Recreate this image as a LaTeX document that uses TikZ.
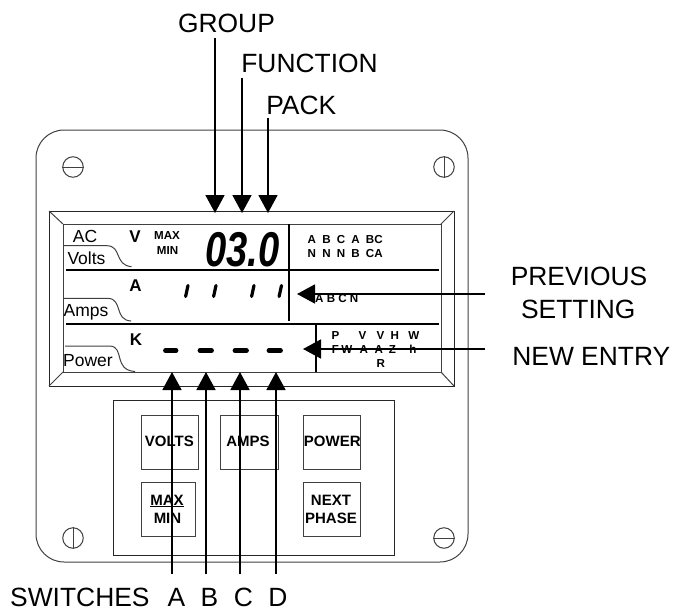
\documentclass[tikz,border=0pt]{standalone}
\usepackage{fontspec}
\usepackage{graphicx}
\setmainfont{Liberation Sans}
\usetikzlibrary{arrows.meta}
\newcommand{\fs}[1]{\fontsize{#1}{#1}\selectfont}
\tikzset{
  x=1pt,y=-1pt,
  thinline/.style={line width=1pt,draw=black!75},
  frame/.style={line width=1pt,draw=black!85},
  rule/.style={line width=1.6pt,draw=black},
  pointer/.style={line width=1.8pt,draw=black,-{Triangle[length=18pt,width=19pt]}},
  big/.style={inner sep=0pt,anchor=base,font=\fs{26.4}},
  tab/.style={inner sep=0pt,anchor=base,font=\fs{17.5}},
  sym/.style={inner sep=0pt,anchor=base,font=\fs{17}\bfseries},
  tiny/.style={inner sep=0pt,anchor=base,font=\fs{11.6}\bfseries},
  tinyw/.style={inner sep=0pt,anchor=base west,font=\fs{11.6}\bfseries},
  btn/.style={inner sep=0pt,anchor=base,font=\fs{15}\bfseries},
  btnbox/.style={rectangle,thinline,inner sep=0pt,anchor=north west},
  screw/.style={circle,thinline,minimum size=20.5pt,inner sep=0pt},
  tick/.style={line width=3.2pt,line cap=round,draw=black},
  dashmark/.style={line width=4.8pt,line cap=round,draw=black}
}
\begin{document}
\begin{tikzpicture}
\path[use as bounding box] (0,0) rectangle (673,611);
% panel
\draw[thinline,rounded corners=28pt] (36,130) rectangle (468,562);
% screws
\node[screw] (s1) at (73,167) {}; \draw[thinline] (s1.west) -- (s1.east);
\node[screw] (s2) at (444,167) {}; \draw[thinline] (s2.north) -- (s2.south);
\node[screw] (s3) at (73,538) {}; \draw[thinline] (s3.north) -- (s3.south);
\node[screw] (s4) at (444,538) {}; \draw[thinline] (s4.west) -- (s4.east);
% display bevel
\draw[frame] (49,211) rectangle (454,386);
\draw[thinline] (63,224) rectangle (441,372);
\draw[thinline] (49,211) -- (63,224) (454,211) -- (441,224) (49,386) -- (63,372) (454,386) -- (441,372);
% rows
\draw[rule] (66,270) -- (439,270);
\draw[rule] (66,324) -- (439,324);
\draw[rule] (289,224) -- (289,321);
\draw[rule] (316,324) -- (316,372);
% tabs
\draw[thinline] (63,245.7) -- (107,245.7) .. controls (122,246) and (114,265) .. (131.5,266.7);
\draw[thinline] (63,298.3) -- (108,298.3) .. controls (123,299) and (114,320) .. (131,321);
\draw[thinline] (65,346) -- (110,346) .. controls (125,347) and (113,370) .. (135,371.5);
\node[tab] (ac) at (85,242) {AC};
\node[tab] (volts) at (86.5,264) {Volts};
\node[tab] (amps) at (86,316.7) {Amps};
\node[tab] (power) at (88,366.7) {Power};
\node[sym] (v) at (135,242.7) {V};
\node[sym] (a) at (135.5,291.7) {A};
\node[sym] (k) at (136,345) {K};
\node[tiny] (max) at (167,239) {MAX};
\node[tiny] (min) at (167.5,254) {MIN};
% digits
\node[inner sep=0pt,anchor=base,font=\fs{48.9}\bfseries\itshape] (digits) at (242.5,266) {\scalebox{0.78}[1]{03.0}};
% segments
\draw[tick] (188,285.5) -- (185.6,296.5);
\draw[tick] (216,285.5) -- (213.6,296.5);
\draw[tick] (254,285.5) -- (251.6,296.5);
\draw[tick] (281.5,285.5) -- (279.1,296.5);
\draw[dashmark] (165.5,350.7) -- (176,350.7);
\draw[dashmark] (200,350.7) -- (211.5,350.7);
\draw[dashmark] (235,350.7) -- (246.5,350.7);
\draw[dashmark] (269,350.7) -- (280.5,350.7);
% small tables
\node[tinyw] (t1) at (307.5,243) {\spaceskip=6.2pt A B C A BC};
\node[tinyw] (t2) at (307.5,257) {\spaceskip=6.2pt N N N B CA};
\node[tinyw] (t3) at (315,302) {A B C N};
\node[tinyw] (t4) at (331.4,339) {P\hspace{19.3pt}V\hspace{10.3pt}V\hspace{6.3pt}H\hspace{9.3pt}W};
\node[tinyw] (t5) at (331.7,353) {F\hspace{2.4pt}W\hspace{7.4pt}A\hspace{6.6pt}A\hspace{5.9pt}Z\hspace{13.2pt}h};
\node[tiny] (t6) at (380.7,367) {R};
% key panel
\draw[frame] (113,400) rectangle (394,555);
\node[btnbox,minimum width=57.5pt,minimum height=54pt] (b1) at (140.5,415) {};
\node[btnbox,minimum width=57.5pt,minimum height=54pt] (b2) at (220,415) {};
\node[btnbox,minimum width=57.5pt,minimum height=54pt] (b3) at (302.5,415) {};
\node[btnbox,minimum width=54pt,minimum height=54pt] (b4) at (140.5,482) {};
\node[btnbox,minimum width=57.5pt,minimum height=54pt] (b5) at (302.5,482) {};
\node[btn] (lv) at (169.3,446.7) {VOLTS};
\node[btn] (la) at (248,446.7) {AMPS};
\node[btn] (lp) at (332.3,446.7) {POWER};
\node[btn] (lm) at (167,505) {\underline{MAX}};
\node[btn] (ln) at (167.5,523.3) {MIN};
\node[btn] (lx) at (331,505) {NEXT};
\node[btn] (lh) at (331,523.3) {PHASE};
% labels
\node[big] (group) at (226.5,32.7) {GROUP};
\node[big] (func) at (309.5,72.7) {FUNCTION};
\node[big] (pack) at (301.3,114) {PACK};
\node[big] (prev) at (579,285.7) {PREVIOUS};
\node[big] (sett) at (578.3,318.3) {SETTING};
\node[big] (newe) at (591.3,365) {NEW ENTRY};
\node[big,anchor=base west] (sw) at (10,606.7) {SWITCHES\hspace{18pt}A\hspace{15.5pt}B\hspace{15.5pt}C\hspace{15.5pt}D};
% connector anchors
\coordinate (g0) at (215,38); \coordinate (g1) at (215,213);
\coordinate (f0) at (242,78); \coordinate (f1) at (242,213);
\coordinate (p0) at (268,118); \coordinate (p1) at (268,213);
\coordinate (r0) at (485,294); \coordinate (r1) at (297,294);
\coordinate (n0) at (485,349); \coordinate (n1) at (303,349);
\coordinate (a0) at (172,574); \coordinate (a1) at (172,372);
\coordinate (b0) at (206,574); \coordinate (bb1) at (206,372);
\coordinate (c0) at (240,574); \coordinate (c1) at (240,372);
\coordinate (d0) at (276,574); \coordinate (d1) at (276,372);
\foreach \u/\w in {g0/g1,f0/f1,p0/p1,r0/r1,n0/n1,a0/a1,b0/bb1,c0/c1,d0/d1}
  \draw[pointer] (\u) -- (\w);
\end{tikzpicture}
\end{document}
